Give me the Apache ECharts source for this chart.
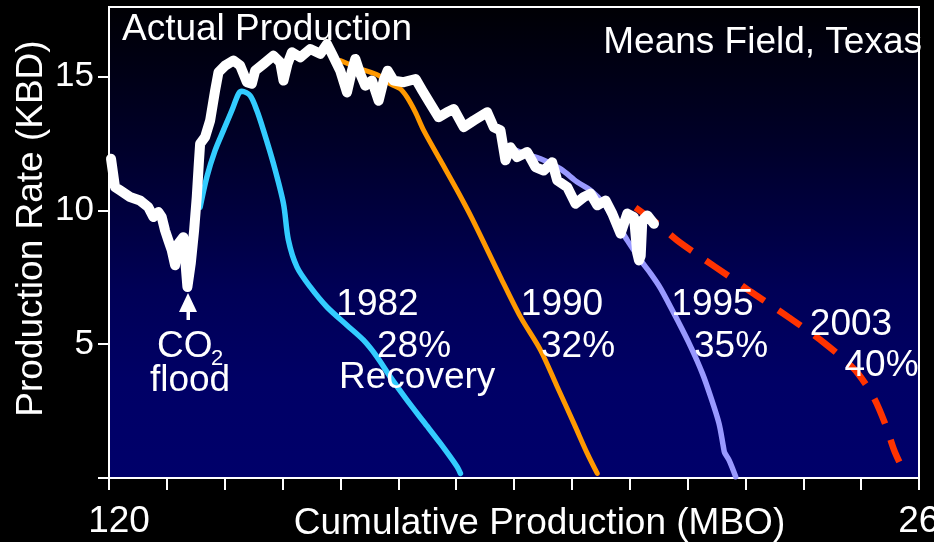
<!DOCTYPE html>
<html><head><meta charset="utf-8">
<script src="https://cdn.jsdelivr.net/npm/echarts@6/dist/echarts.min.js"></script>
<style>html,body{margin:0;padding:0;background:#000;}#c{width:934px;height:542px;}</style>
</head><body><div id="c"></div>
<script>
// ---- data (Cumulative production MMBO, rate KBD) ----
const xLabelValues = [120, 260];
const xTickValues = [120,130,140,150,160,170,180,190,200,210,220,230,240,250,260];
const yLabelValues = [5, 10, 15];
const yTickValues = [0, 5, 10, 15];

const actual = [
  [120.35,11.93],[121.04,10.87],[121.9,10.75],[123.63,10.5],[125.36,10.37],[126.8,10.12],
  [127.67,9.75],[128.53,9.94],[129.11,9.75],[129.69,9.25],[130.26,8.88],[130.84,8.51],
  [131.42,7.95],[132.0,8.76],[132.86,9.0],[133.55,7.14],[134.13,8.01],[134.71,9.25],
  [135.17,10.5],[135.52,11.74],[135.75,12.49],[136.61,12.74],[137.48,13.36],[138.34,14.48],
  [138.92,15.16],[140.07,15.41],[141.51,15.6],[142.67,15.41],[143.83,14.79],[144.69,14.73],
  [145.26,15.22],[146.7,15.47],[148.43,15.78],[149.59,15.53],[150.16,14.85],[150.85,15.47],
  [151.61,15.91],[153.05,15.72],[154.78,16.03],[156.51,15.85],[157.67,16.22],[158.53,15.85],
  [159.97,15.22],[161.13,14.41],[161.99,15.22],[162.57,15.66],[163.43,15.1],[164.3,14.66],
  [165.45,14.85],[166.6,14.1],[167.47,14.85],[168.16,15.22],[169.2,14.85],[170.93,14.79],
  [173.0,14.91],[174.15,14.48],[175.55,13.98],[176.98,13.48],[178.43,13.67],[179.58,13.79],
  [181.31,13.11],[183.04,13.36],[185.36,13.67],[186.5,13.11],[187.66,12.99],[188.52,11.87],
  [189.39,12.36],[190.54,11.99],[192.28,12.18],[193.71,11.62],[195.15,11.49],[196.6,11.8],
  [197.47,11.12],[199.2,10.87],[200.64,10.25],[202.07,10.5],[203.23,10.62],[204.39,10.19],
  [205.83,10.37],[206.99,9.88],[208.42,9.13],[209.58,9.88],[210.74,9.75],[211.3,8.4],
  [211.6,8.13],[211.9,8.3],[212.18,9.63],[213.05,9.81],[214.2,9.5]
];
const curve1982 = [
  [135.75,10.12],[136.9,11.24],[138.34,12.24],[139.78,12.99],[141.23,13.73],[142.37,14.35],
  [142.96,14.45],[144.4,14.29],[145.56,13.73],[146.7,12.99],[148.43,11.74],[150.16,10.25],
  [151.0,8.9],[152.5,7.88],[154.78,7.14],[157.67,6.39],[161.13,5.71],[164.0,5.15],
  [166.32,4.53],[168.62,3.78],[171.51,2.91],[174.39,2.1],[177.28,1.29],[180.17,0.42],[180.74,0.17]
];
const curve1990 = [
  [159.97,15.6],[163.43,15.29],[166.6,15.04],[168.62,14.73],[170.35,14.54],[171.51,14.23],
  [172.95,13.67],[174.39,12.99],[177.28,11.87],[180.17,10.75],[182.76,9.69],[187.66,7.51],
  [191.12,6.02],[194.58,4.78],[197.47,3.41],[200.35,2.04],[202.66,0.92],[204.39,0.17]
];
const curve1995 = [
  [188.5,12.4],[192.0,12.1],[194.58,11.93],[198.04,11.55],[200.93,11.06],[203.23,10.75],
  [205.54,10.25],[207.85,9.5],[209.58,8.88],[211.9,8.13],[213.62,7.64],[215.35,7.08],
  [218.24,5.9],[220.55,4.9],[222.56,3.91],[224.0,3.03],[225.43,2.04],[226.19,1.17],
  [226.4,0.95],[227.17,0.67],[228.32,0.05]
];
const curve2003 = [
  [211.0,10.1],[214.8,9.5],[218.2,8.88],[222.0,8.3],[227.4,7.5],[231.0,6.95],[234.4,6.46],
  [237.5,6.0],[240.7,5.52],[243.6,5.05],[246.5,4.53],[249.4,3.92],[252.2,3.0],[254.2,2.0],
  [255.7,1.04],[256.6,0.6]
];

const FONT = '"Liberation Sans", Arial, sans-serif';
const chart = echarts.init(document.getElementById('c'), null, {renderer: 'canvas'});

function txt(text, x, y, size, align) {
  return {type: 'text', x: x, y: y, z: 100,
    style: {text: text, fill: '#fff', font: size + 'px ' + FONT,
            textAlign: align || 'center', textVerticalAlign: 'middle'}};
}

const option = {
  backgroundColor: '#000',
  animation: false,
  textStyle: {fontFamily: FONT},
  grid: {
    left: 109, top: 7, right: 15, bottom: 64, show: true,
    containLabel: false, outerBoundsMode: 'none',
    borderColor: '#fff', borderWidth: 2,
    backgroundColor: {type: 'linear', x: 0, y: 0, x2: 0, y2: 1, colorStops: [
      {offset: 0, color: '#000004'}, {offset: 0.3, color: '#00002a'},
      {offset: 0.6, color: '#000056'}, {offset: 0.8, color: '#000066'},
      {offset: 1, color: '#00006a'}]}
  },
  xAxis: {
    type: 'value', min: 120, max: 260, interval: 10,
    axisLine: {onZero: false, lineStyle: {color: '#fff', width: 2}},
    axisTick: {show: true, length: 12, customValues: xTickValues, lineStyle: {color: '#fff', width: 2}},
    axisLabel: {customValues: xLabelValues, color: '#fff', fontSize: 37, fontFamily: FONT, margin: 25,
      padding: [0, 0, 0, 20],
      formatter: v => xLabelValues.indexOf(v) >= 0 ? String(v) : ''},
    splitLine: {show: false}
  },
  yAxis: {
    type: 'value', min: 0, max: 17.6, interval: 5,
    axisLine: {lineStyle: {color: '#fff', width: 2}},
    axisTick: {show: true, length: 11, customValues: yTickValues, lineStyle: {color: '#fff', width: 2}},
    axisLabel: {customValues: yLabelValues, color: '#fff', fontSize: 35, fontFamily: FONT, margin: 15,
      padding: [8, 0, 0, 0],
      formatter: v => yLabelValues.indexOf(v) >= 0 ? String(v) : ''},
    splitLine: {show: false}
  },
  series: [
    {type: 'line', data: curve1982, showSymbol: false, smooth: 0.3, z: 2,
      lineStyle: {color: '#33ccff', width: 5.5, cap: 'round', join: 'round'}},
    {type: 'line', data: curve1990, showSymbol: false, smooth: 0.3, z: 2,
      lineStyle: {color: '#ff9900', width: 5, cap: 'round', join: 'round'}},
    {type: 'line', data: curve1995, showSymbol: false, smooth: 0.3, z: 2,
      lineStyle: {color: '#9999ff', width: 5.5, cap: 'round', join: 'round'}},
    {type: 'line', data: curve2003, showSymbol: false, smooth: 0.3, z: 2,
      lineStyle: {color: '#ff3300', width: 6.5, type: [27, 17]}},
    {type: 'line', data: actual, showSymbol: false, smooth: false, z: 3,
      lineStyle: {color: '#ffffff', width: 10, cap: 'round', join: 'round'}}
  ],
  graphic: [
    txt('Actual Production', 122, 29.5, 37, 'left'),
    txt('Means Field, Texas', 922, 42.5, 37, 'right'),
    txt('1982', 377.5, 304.5, 37),
    txt('28%', 414, 346.5, 37),
    txt('Recovery', 339, 377.5, 37, 'left'),
    txt('1990', 562, 304.5, 37),
    txt('32%', 578, 346.5, 37),
    txt('1995', 712.5, 304.5, 37),
    txt('35%', 731, 346.5, 37),
    txt('2003', 851, 324.5, 37),
    txt('40%', 881.5, 365.5, 37),
    txt('CO', 157, 347, 37, 'left'),
    txt('2', 211, 359, 22, 'left'),
    txt('flood', 190, 380.5, 37),
    txt('Cumulative Production (MBO)', 539.5, 523.5, 37),
    {type: 'text', x: 32, y: 228.5, rotation: Math.PI / 2, z: 100,
      style: {text: 'Production Rate (KBD)', fill: '#fff', font: '37px ' + FONT,
              textAlign: 'center', textVerticalAlign: 'middle'}},
    {type: 'polygon', z: 100, shape: {points: [[188, 293], [179, 312], [197, 312]]}, style: {fill: '#fff'}},
    {type: 'rect', z: 100, shape: {x: 186.5, y: 310, width: 3.5, height: 10}, style: {fill: '#fff'}}
  ]
};
chart.setOption(option);
</script>
</body></html>
